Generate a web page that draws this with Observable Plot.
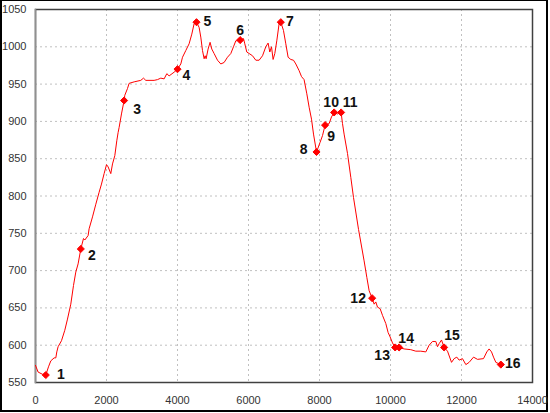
<!DOCTYPE html>
<html>
<head>
<meta charset="utf-8">
<script src="https://cdn.jsdelivr.net/npm/d3@7"></script>
<script src="https://cdn.jsdelivr.net/npm/@observablehq/plot@0.6"></script>
<style>
  html, body { margin: 0; padding: 0; background: #fff; }
  #wrap { position: relative; width: 550px; height: 413px; }
  #border { position: absolute; left: 0; top: 0; width: 548px; height: 412px; box-sizing: border-box;
    border-left: 2px solid #000; border-top: 1px solid #000; border-right: 2px solid #000; border-bottom: 2px solid #000; pointer-events: none; }
</style>
</head>
<body>
<div id="wrap"><div id="border"></div></div>
<script>
// Elevation profile: distance (m) and elevation (m)
const distance = [0,73,197,290,366,431,524,572,600,637,732,825,901,994,1070,1135,1200,1276,1352,1389,1482,1510,1606,1699,1792,1859,1933,2000,2046,2121,2169,2234,2290,2327,2356,2422,2496,2515,2591,2637,2778,2966,3042,3107,3341,3436,3530,3623,3699,3764,3905,4000,4093,4141,4234,4327,4403,4468,4535,4609,4656,4704,4750,4778,4806,4862,4918,4966,5031,5127,5220,5313,5408,5502,5577,5642,5764,5859,5896,5952,6017,6113,6206,6299,6395,6487,6552,6600,6648,6693,6741,6797,6862,6910,6985,7051,7116,7192,7268,7333,7426,7494,7566,7643,7708,7775,7831,7916,8017,8085,8158,8271,8338,8412,8507,8609,8648,8693,8789,8882,8958,9100,9257,9333,9398,9483,9540,9586,9634,9707,9775,9868,9933,9990,10057,10131,10243,10383,10572,10713,10854,10995,11088,11183,11276,11324,11369,11437,11510,11606,11719,11792,11868,11933,12028,12122,12215,12339,12451,12620,12713,12778,12846,12902,12967,13108];
const elevation = [573,564,561,560,571,579,583,583,591,598,606,620,635,655,680,698,709,729,743,741,747,756,772,789,805,816,830,842,839,830,843,854,874,885,892,910,928,935,944,951,953,955,958,955,955,956,958,957,964,961,966,970,977,986,995,1004,1017,1031,1033,1026,1013,995,984,988,984,997,1006,997,991,982,977,979,986,991,1000,1008,1009,1011,1004,993,991,988,982,982,988,1000,1005,993,1000,983,991,1008,1031,1033,1022,1004,986,983,982,977,968,960,956,937,919,903,883,859,872,881,895,897,906,912,910,912,897,883,857,825,798,755,713,691,673,663,655,658,651,649,640,629,617,611,603,597,597,595,594,592,592,591,600,605,605,598,602,607,597,592,577,582,584,580,582,574,577,584,581,582,591,595,591,584,577,574];

// Numbered waypoints
const wpLabel = ["1","2","3","4","5","6","7","8","9","10","11","12","13","14","15","16"];
const wpDistance = [290,1276,2496,4000,4535,5764,6910,7916,8158,8412,8609,9483,10131,10243,11510,13108];
const wpElevation = [560,729,928,970,1033,1009,1033,859,895,912,912,663,597,597,597,574];
const wpDx = [15,11,13,9,11,0,9,-13,6,-3,9,-14,-13,7,8,12];
const wpDy = [-1,7,9,6,-1,-10,-1,-2,11,-10,-10,0,8,-9,-12,-1];

const xTicks = [0,2000,4000,6000,8000,10000,12000,14000];
const yTicks = [550,600,650,700,750,800,850,900,950,1000,1050];

const profile = distance.map((d, i) => ({d, e: elevation[i]}));
const waypoints = wpLabel.map((t, i) => ({t, d: wpDistance[i], e: wpElevation[i], dx: wpDx[i], dy: wpDy[i]}));

const chart = Plot.plot({
  width: 550,
  height: 413,
  marginLeft: 35,
  marginRight: 18,
  marginTop: 9,
  marginBottom: 31,
  style: {fontFamily: "'Liberation Sans', Arial, sans-serif", fontSize: "11px", color: "#333", background: "transparent"},
  x: {domain: [0, 14000], ticks: xTicks},
  y: {domain: [550, 1050], ticks: yTicks},
  marks: [
    Plot.gridX(xTicks, {stroke: "#c0c0c0", strokeOpacity: 1, strokeDasharray: "2,3"}),
    Plot.gridY(yTicks, {stroke: "#c0c0c0", strokeOpacity: 1, strokeDasharray: "2,3"}),
    Plot.axisX(xTicks, {tickSize: 0, tickPadding: 14, label: null, tickFormat: d => String(d), fill: "#333"}),
    Plot.axisY(yTicks, {tickSize: 0, tickPadding: 9, label: null, tickFormat: d => String(d), fill: "#333"}),
    Plot.frame({stroke: "#404040", strokeWidth: 1.5}),
    Plot.frame({anchor: "left", stroke: "#909090", strokeWidth: 1.5}),
    Plot.line(profile, {x: "d", y: "e", stroke: "#ff0000", strokeWidth: 1}),
    Plot.dot(waypoints, {x: "d", y: "e", symbol: "diamond2", r: 3.2, fill: "#ff0000", stroke: "#ff0000", strokeWidth: 1}),
    ...waypoints.map(w => Plot.text([w], {x: "d", y: "e", text: "t", dx: w.dx, dy: w.dy, fontWeight: "bold", fontSize: 14, fill: "#111"}))
  ]
});
chart.style.position = "absolute";
chart.style.left = "0";
chart.style.top = "0";
document.getElementById("wrap").appendChild(chart);
</script>
</body>
</html>
